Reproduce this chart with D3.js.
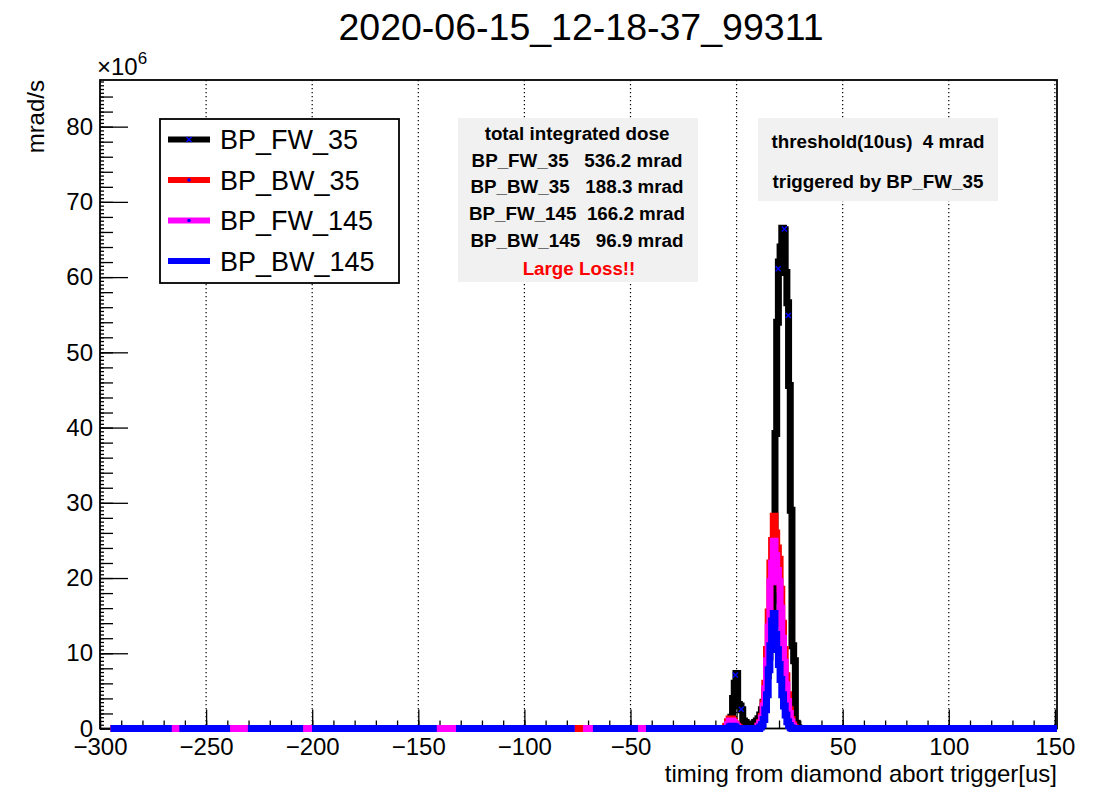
<!DOCTYPE html>
<html>
<head>
<meta charset="utf-8">
<script src="https://cdn.jsdelivr.net/npm/d3@7"></script>
<style>
  body { margin:0; background:#fff; }
  svg text { font-family:"Liberation Sans", Arial, Helvetica, sans-serif; }
  .tick text { font-size:24px; fill:#000; }
  .box-text { font-weight:bold; font-size:18.8px; white-space:pre; }
</style>
</head>
<body>
<div id="chart"></div>
<script>
// histogram window around the loss, 0.8 us bins starting at -5.9 us; outside it all series sit at 0
const binStart = -5.9, binWidth = 0.8;
const dataStart = -295, dataEnd = 151;

const fw35 = [0, 0.1, 0.2, 0.4, 1.5, 4.0, 6.0, 7.3, 3.2, 3.0, 2.5, 1.0, 0.8, 0.6, 0.5, 0.5, 0.5, 0.6, 0.8, 1.0,
              1.3, 1.8, 2.5, 3.5, 5.0, 7.0, 9.5, 12.5, 15, 17, 39.2, 54, 62, 64, 66.5, 66.3, 60.6, 56.6, 45.6, 29,
              11, 9, 0.7, 0.1, 0];
const bw35 = [0, 0.3, 0.9, 1.25, 1.25, 1.0, 0.6, 0.3, 0.1, 0, 0, 0, 0, 0, 0, 0, 0, 0, 0, 0,
              0.3, 0.8, 1.6, 3.4, 6.0, 10.5, 15.5, 22, 25, 28.2, 26, 24, 22.5, 18.5, 14, 10.5, 7, 4.5, 2.5, 1.2,
              0.5, 0.1, 0, 0, 0];
const fw145 = [0, 0, 0.5, 0.95, 1.0, 0.8, 0.5, 0.2, 0, 0, 0, 0, 0, 0, 0, 0, 0, 0, 0, 0,
               0.3, 0.7, 1.4, 3.0, 5.3, 9, 13.5, 19.5, 22, 24.9, 23, 21, 19.5, 16, 12, 8.8, 5.8, 3.6, 2.0, 0.9,
               0.3, 0, 0, 0, 0];
const bw145 = [0, 0, 0, 0.2, 0.3, 0.3, 0.2, 0, 0, 0, 0, 0, 0, 0, 0, 0, 0, 0, 0, 0,
               0, 0.2, 0.5, 1.2, 2.5, 4.5, 7.8, 11, 14.3, 15.3, 12.5, 10.5, 8.5, 6.5, 4.5, 3.0, 1.8, 0.9, 0.4, 0.1,
               0, 0, 0, 0, 0];

// stretches of the baseline where a series has no line
const fw145Gaps = [[-76.3, -72.4]];
const bw145Gaps = [[-266.2, -262.6], [-238.7, -230.3], [-204.3, -200.1], [-141.3, -132.2], [-76.3, -67.7], [-46.5, -42.7]];

// blue x markers seen on the BP_FW_35 line
const fw35Markers = [[22.5, 66.4], [19.6, 61.1], [24.4, 54.9], [-0.6, 7.1], [2.2, 2.55]];

const seriesNames = ["BP_FW_35", "BP_BW_35", "BP_FW_145", "BP_BW_145"];
const seriesColors = ["#000000", "#ff0000", "#ff00ff", "#0000ff"];
const seriesValues = [fw35, bw35, fw145, bw145];
const seriesGaps = [[], [], fw145Gaps, bw145Gaps];

const doseLines = ["total integrated dose", "BP_FW_35   536.2 mrad", "BP_BW_35   188.3 mrad",
                   "BP_FW_145  166.2 mrad", "BP_BW_145   96.9 mrad"];
const lossText = "Large Loss!!";
const triggerLines = ["threshold(10us)  4 mrad", "triggered by BP_FW_35"];

const title = "2020-06-15_12-18-37_99311";
const xMajor = d3.range(-300, 151, 50);
const xMinor = d3.range(-300, 151, 10);
const yMajor = d3.range(0, 81, 10);

(function() {
const fL = 100, fR = 1057, fT = 80, fB = 728.5;

const svg = d3.select("#chart").append("svg").attr("width", 1099).attr("height", 789);
svg.append("rect").attr("width", 1099).attr("height", 789).attr("fill", "#fff");

const x = d3.scaleLinear().domain([-300, 151]).range([fL, fR]);
const y = d3.scaleLinear().domain([0, 86.2]).range([fB, fT]);

svg.append("text").attr("x", 581).attr("y", 40).attr("text-anchor", "middle")
    .style("font-size", "37.5px").text(title);

// clip only the sides and top, the thick baseline may spill over the bottom edge
svg.append("defs").append("clipPath").attr("id", "frame")
    .append("rect").attr("x", fL).attr("y", fT).attr("width", fR - fL).attr("height", fB - fT + 6);

// dotted grid
svg.append("g").selectAll("line").data(xMajor.filter(d => d > -300)).enter().append("line")
    .attr("x1", d => x(d)).attr("x2", d => x(d)).attr("y1", fT).attr("y2", fB)
    .attr("stroke", "#000").attr("stroke-width", 1.2).attr("stroke-dasharray", "1.3,2.7");

// axes (ticks inside the frame, ROOT style)
svg.append("g").attr("transform", `translate(0,${fB})`)
    .call(d3.axisBottom(x).tickValues(xMajor).tickSize(-19).tickSizeOuter(0).tickPadding(9));
svg.append("g").attr("transform", `translate(0,${fB})`)
    .call(d3.axisBottom(x).tickValues(xMinor).tickSize(-8).tickSizeOuter(0).tickFormat(""));
svg.append("g").attr("transform", `translate(${fL},0)`)
    .call(d3.axisLeft(y).tickValues(yMajor).tickSize(-28).tickSizeOuter(0).tickPadding(7));
svg.append("g").attr("transform", `translate(${fL},0)`)
    .call(d3.axisLeft(y).tickValues(d3.range(0, 86, 2)).tickSize(-13).tickSizeOuter(0).tickFormat(""));
svg.append("g").attr("transform", `translate(${fL},0)`)
    .call(d3.axisLeft(y).tickValues(d3.range(0, 86.1, 0.5)).tickSize(-4).tickSizeOuter(0).tickFormat(""));
svg.selectAll(".tick line").attr("stroke", "#000").attr("stroke-width", 1.3);
svg.selectAll(".domain").remove();

svg.append("rect").attr("x", fL).attr("y", fT).attr("width", fR - fL).attr("height", fB - fT)
    .attr("fill", "none").attr("stroke", "#000").attr("stroke-width", 1.8);

// series
function points(values, gaps) {
    const pts = [[dataStart, 0]];
    gaps.forEach(g => { pts.push([g[0], 0], [g[0], null], [g[1], 0]); });
    values.forEach((v, i) => pts.push([binStart + i * binWidth, v]));
    pts.push([binStart + values.length * binWidth, 0], [dataEnd, 0]);
    return pts;
}
const line = d3.line().defined(d => d[1] != null).x(d => x(d[0])).y(d => y(d[1])).curve(d3.curveStepAfter);
const plot = svg.append("g").attr("clip-path", "url(#frame)");
seriesValues.forEach((vals, i) => {
    plot.append("path").datum(points(vals, seriesGaps[i])).attr("d", line)
        .attr("fill", "none").attr("stroke", seriesColors[i]).attr("stroke-width", 7)
        .attr("stroke-linejoin", "miter").attr("stroke-linecap", "butt");
});
function cross(g, cx, cy, s) {
    g.append("path").attr("d", `M${cx - s},${cy - s}L${cx + s},${cy + s}M${cx - s},${cy + s}L${cx + s},${cy - s}`)
        .attr("stroke", "#0000ff").attr("stroke-width", 1.5);
}
fw35Markers.forEach(m => cross(plot, x(m[0]), y(m[1]), 2.5));

svg.append("text").attr("transform", "translate(44,80) rotate(-90)").attr("text-anchor", "end")
    .style("font-size", "24px").text("mrad/s");
const exp = svg.append("text").attr("x", 97).attr("y", 75).style("font-size", "24px");
exp.append("tspan").text("\u00d710");
exp.append("tspan").attr("dy", -11).style("font-size", "17px").text("6");
svg.append("text").attr("x", fR).attr("y", 782).attr("text-anchor", "end")
    .style("font-size", "24px").text("timing from diamond abort trigger[us]");

// legend
const leg = svg.append("g");
leg.append("rect").attr("x", 160).attr("y", 119).attr("width", 239).attr("height", 164)
    .attr("fill", "#fff").attr("stroke", "#000").attr("stroke-width", 1.8);
seriesNames.forEach((name, i) => {
    const ly = 139.5 + i * 40.5;
    leg.append("line").attr("x1", 168).attr("x2", 210).attr("y1", ly).attr("y2", ly)
        .attr("stroke", seriesColors[i]).attr("stroke-width", 6);
    if (i === 0) cross(leg, 189, ly, 2.5);
    else if (i < 3) leg.append("circle").attr("cx", 189).attr("cy", ly).attr("r", 1.8).attr("fill", "#0000ff");
    leg.append("text").attr("x", 220).attr("y", ly).attr("dy", "0.36em").style("font-size", "27px").text(name);
});

// text boxes
svg.append("rect").attr("x", 458).attr("y", 118).attr("width", 240).attr("height", 164).attr("fill", "#f1f1f1");
doseLines.forEach((s, i) => {
    svg.append("text").attr("class", "box-text").attr("x", 577).attr("y", 133 + i * 26.8).attr("dy", "0.36em")
        .attr("text-anchor", "middle").text(s);
});
svg.append("text").attr("class", "box-text").attr("x", 579).attr("y", 268).attr("dy", "0.36em")
    .attr("text-anchor", "middle").attr("fill", "#ff0000").text(lossText);

svg.append("rect").attr("x", 758).attr("y", 118).attr("width", 240).attr("height", 83).attr("fill", "#f1f1f1");
triggerLines.forEach((s, i) => {
    svg.append("text").attr("class", "box-text").attr("x", 878).attr("y", 141 + i * 40).attr("dy", "0.36em")
        .attr("text-anchor", "middle").text(s);
});
})();
</script>
</body>
</html>
